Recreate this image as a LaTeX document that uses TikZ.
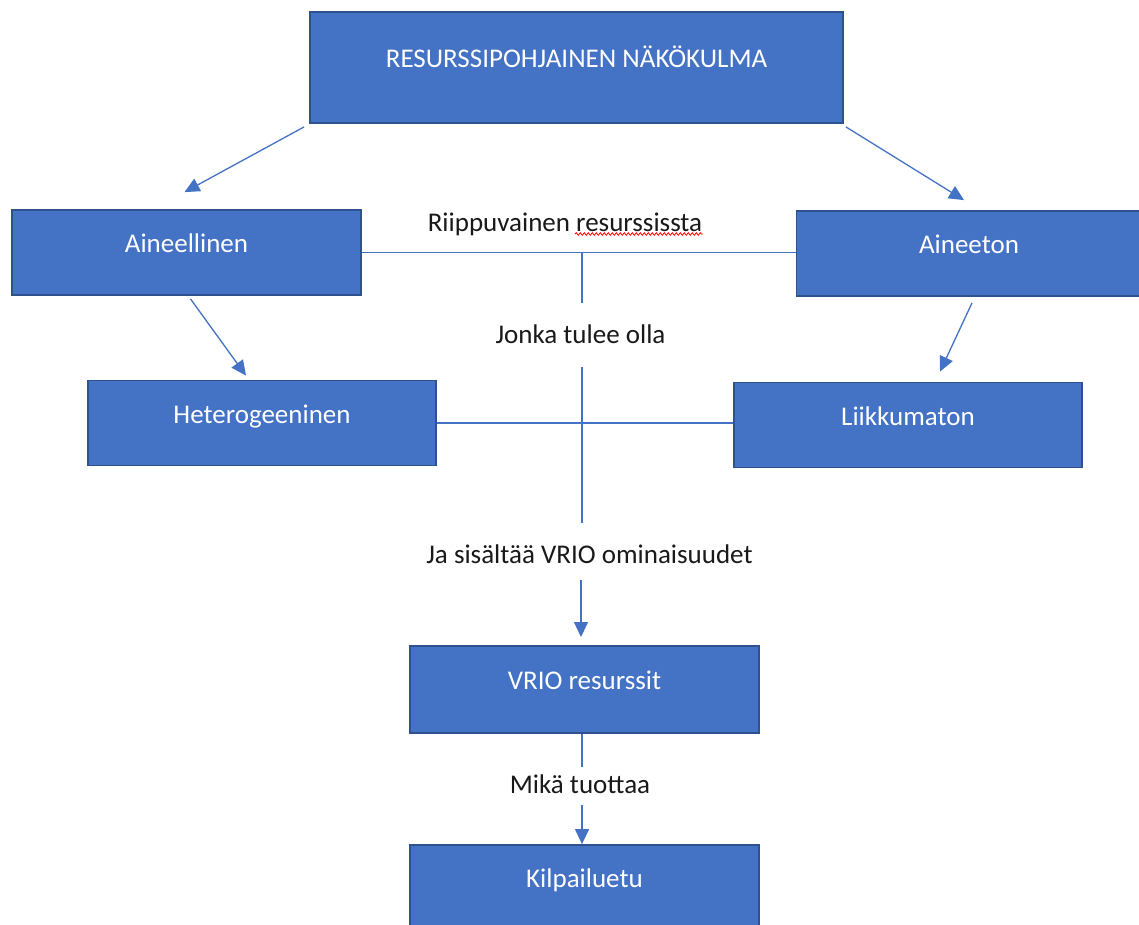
\documentclass[tikz,border=0pt]{standalone}
\usepackage{fontspec}
\setmainfont{Carlito}
\usetikzlibrary{arrows.meta,calc,decorations.pathmorphing}
\definecolor{boxblue}{HTML}{4472C4}
\definecolor{boxedge}{HTML}{2F528F}
\definecolor{linkblue}{HTML}{4472C4}
\tikzset{
  resbox/.style={draw=boxedge,fill=boxblue,line width=1.8pt,text=white,
    minimum width=348pt,minimum height=85pt,text height=18pt,text depth=18pt,
    inner sep=2pt},
  link/.style={draw=linkblue,line width=1.3pt},
  arr/.style={link,-{Triangle[length=15pt,width=14pt]}},
  lbl/.style={text=black!90,inner sep=0pt,anchor=base}
}
\begin{document}
\begin{tikzpicture}[x=1pt,y=-1pt,font=\fontsize{27}{32}\selectfont]
  \useasboundingbox (0,0) rectangle (1139,925);
  \clip (0,0) rectangle (1139,925);
  \fill[white] (0,0) rectangle (1139,925);

  % boxes
  \node[resbox,minimum width=533pt,minimum height=111pt] (rbv) at (576.5,67.5) {RESURSSIPOHJAINEN NÄKÖKULMA};
  \node[resbox,minimum width=349pt] (aineellinen) at (186.5,252.5) {Aineellinen};
  \node[resbox,minimum width=345pt] (aineeton) at (969,253.5) {Aineeton};
  \node[resbox] (hetero) at (262,423) {Heterogeeninen};
  \node[resbox] (liikkumaton) at (908,425) {Liikkumaton};
  \node[resbox,minimum width=349pt,minimum height=87pt] (vrio) at (584.5,689.5) {VRIO resurssit};
  \node[resbox,minimum width=349pt] (kilpailuetu) at (584.5,887.5) {Kilpailuetu};

  % labels
  \node[lbl] (riippuvainen) at (565,232) {Riippuvainen resurssissta};
  \node[lbl] (jonka) at (580.5,343) {Jonka tulee olla};
  \node[lbl] (ja) at (589.5,563) {Ja sisältää VRIO ominaisuudet};
  \node[lbl] (mika) at (580,793) {Mikä tuottaa};
  \draw[red,line width=0.8pt,decorate,decoration={snake,amplitude=1.3pt,segment length=4pt}]
    (575,234) -- (703,234);

  % free ends of the middle spine
  \coordinate (hub) at (582,251.5);
  \coordinate (hubA) at (582,303);
  \coordinate (hubB) at (582,367);
  \coordinate (hubC) at (582,523);
  \coordinate (hubD) at (581,580);
  \coordinate (hubE) at (581,637);
  \coordinate (vrioB) at (582,767);
  \coordinate (vrioC) at (582,805);

  % connectors
  \draw[arr] ($(rbv.south west)+(-5,3)$) -- ($(aineellinen.north)+(-2,-17)$);
  \draw[arr] ($(rbv.south east)+(2,3)$) -- ($(aineeton.north)+(-5,-10)$);
  \draw[arr] ($(aineellinen.south)+(4,3)$) -- ($(hetero.north)+(-16,-4)$);
  \draw[arr] ($(aineeton.south)+(3,6)$) -- ($(liikkumaton.north)+(32,-10)$);
  \draw[link] (aineellinen.east) -- (aineellinen.east -| aineeton.west);
  \draw[link] (hetero.east) -- (hetero.east -| liikkumaton.west);
  \draw[link] (hub) -- (hubA);
  \draw[link] (hubB) -- (hubC);
  \draw[arr] (hubD) -- (hubE);
  \draw[link] (vrio.south -| vrioB) -- (vrioB);
  \draw[arr] (vrioC) -- (kilpailuetu.north -| vrioC);
\end{tikzpicture}
\end{document}
